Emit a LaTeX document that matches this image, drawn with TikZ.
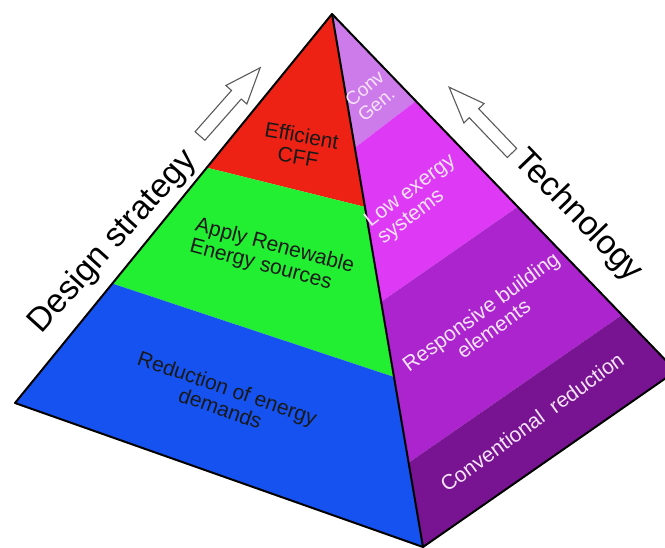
\documentclass[tikz,border=0pt]{standalone}
\usepackage{fontspec}
\setmainfont{Liberation Sans}
\usetikzlibrary{calc}
\definecolor{cRed}{RGB}{238,34,20}
\definecolor{cGreen}{RGB}{34,238,50}
\definecolor{cBlue}{RGB}{22,82,240}
\definecolor{cConvGen}{RGB}{205,122,235}
\definecolor{cLowEx}{RGB}{222,58,245}
\definecolor{cResp}{RGB}{172,36,205}
\definecolor{cConv}{RGB}{120,20,146}
\definecolor{cLightTxt}{RGB}{246,228,250}
\definecolor{cArrow}{RGB}{90,90,90}
\tikzset{
  outline/.style={draw=black, line width=2pt, line join=round},
  biglabel/.style={font=\fontsize{33.5}{38}\selectfont, text=black, inner sep=0pt},
  darklabel/.style={font=\fontsize{21}{21.5}\selectfont, text=black!90, inner sep=0pt},
  lightlabel/.style={font=\fontsize{21}{21.5}\selectfont, text=cLightTxt, inner sep=0pt},
  hollowarrow/.style={draw=cArrow, fill=white, line width=1.1pt, line join=miter},
}
\begin{document}
\begin{tikzpicture}[x=1pt, y=-1pt]
\clip (0,0) rectangle (665,548);
\fill[white] (0,0) rectangle (665,548);
\coordinate (A) at (332,14);
\coordinate (L) at (15,403);
\coordinate (F) at (423,547);
\coordinate (R) at (676,371);
% left face bands
\coordinate (L1) at ($(A)!0.395!(L)$);
\coordinate (L2) at ($(A)!0.693!(L)$);
\coordinate (F1) at ($(A)!0.362!(F)$);
\coordinate (F2) at ($(A)!0.681!(F)$);
\fill[cRed] (A) -- (L1) -- (F1) -- cycle;
\fill[cGreen] (L1) -- (L2) -- (F2) -- (F1) -- cycle;
\fill[cBlue] (L2) -- (L) -- (F) -- (F2) -- cycle;
% right face bands
\coordinate (G1) at ($(A)!0.251!(F)$);
\coordinate (G2) at ($(A)!0.54!(F)$);
\coordinate (G3) at ($(A)!0.842!(F)$);
\coordinate (R1) at ($(A)!0.244!(R)$);
\coordinate (R2) at ($(A)!0.54!(R)$);
\coordinate (R3) at ($(A)!0.843!(R)$);
\fill[cConvGen] (A) -- (G1) -- (R1) -- cycle;
\fill[cLowEx] (G1) -- (G2) -- (R2) -- (R1) -- cycle;
\fill[cResp] (G2) -- (G3) -- (R3) -- (R2) -- cycle;
\fill[cConv] (G3) -- (F) -- (R) -- (R3) -- cycle;
% outlines
\draw[outline] (L) -- (A) -- (R) -- (F) -- cycle;
\draw[outline] (A) -- (F);
% hollow arrows
\begin{scope}[shift={(200,136)}, rotate=48.6]
\draw[hollowarrow] (0,6.5) -- (55,6.5) -- (55,14) -- (91,0) -- (55,-14) -- (55,-6.5) -- (0,-6.5) -- cycle;
\end{scope}
\begin{scope}[shift={(512,153)}, rotate=133.7]
\draw[hollowarrow] (0,6.5) -- (55,6.5) -- (55,14) -- (91,0) -- (55,-14) -- (55,-6.5) -- (0,-6.5) -- cycle;
\end{scope}
% side labels
\node[biglabel, rotate=48] (design) at (113,242) {Design strategy};
\node[biglabel, rotate=-46] (tech) at (578,216) {Technology};
% left face labels
\node[darklabel, rotate=-10, align=center] (eff) at (300,146) {Efficient\\CFF};
\node[darklabel, rotate=-15, align=left] (renew) at (272,257) {Apply Renewable\\Energy sources};
\node[darklabel, rotate=-19, align=center] (reduce) at (224,398) {Reduction of energy\\demands};
% right face labels
\node[lightlabel, font=\fontsize{19}{20}\selectfont, rotate=40, align=left] (convgen) at (371,96) {Conv\\Gen.};
\node[lightlabel, rotate=37, align=left] (lowex) at (417,200) {Low exergy\\systems};
\node[lightlabel, rotate=36, align=center] (resp) at (487,320) {Responsive building\\elements};
\node[lightlabel, rotate=36] (conv) at (532,422) {Conventional\ \ reduction};
\end{tikzpicture}
\end{document}
